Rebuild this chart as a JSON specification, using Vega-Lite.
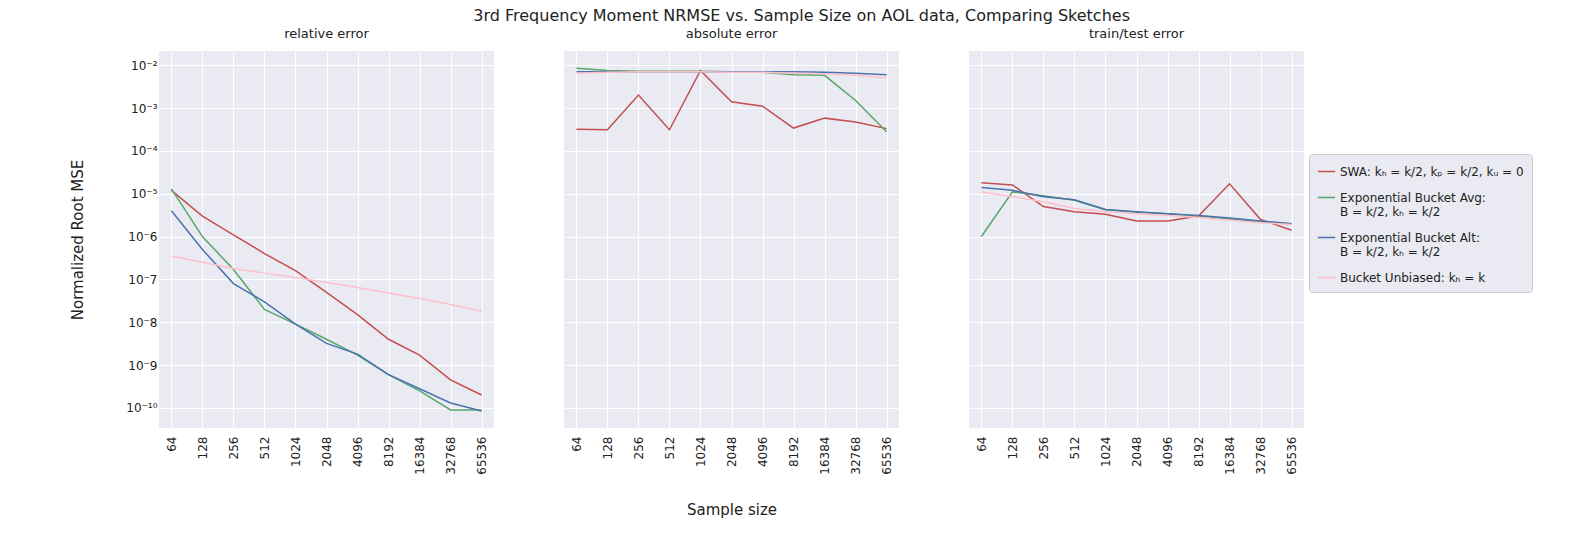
{
"$schema":"https://vega.github.io/schema/vega-lite/v6.json",
"background":"white",
"padding":{"left":70,"top":8,"right":5,"bottom":5},
"title":{"text":"3rd Frequency Moment NRMSE vs. Sample Size on AOL data, Comparing Sketches","anchor":"middle","fontSize":16,"fontWeight":"normal","font":"DejaVu Sans","color":"#222"},
"datasets":{"raw":[
{"p":"relative error","s":"SWA","v":[1.2e-5,3e-6,1.1e-6,4e-7,1.6e-7,5e-8,1.5e-8,4e-9,1.7e-9,4.5e-10,2e-10]},
{"p":"relative error","s":"EBA","v":[1.3e-5,1e-6,1.7e-7,2e-8,9e-9,4e-9,1.7e-9,6e-10,2.5e-10,9e-11,9e-11]},
{"p":"relative error","s":"EBB","v":[4e-6,5e-7,8e-8,3e-8,9e-9,3.2e-9,1.8e-9,6e-10,2.8e-10,1.3e-10,8.5e-11]},
{"p":"relative error","s":"BU","v":[3.5e-7,2.5e-7,1.8e-7,1.4e-7,1.1e-7,8.5e-8,6.5e-8,4.8e-8,3.6e-8,2.6e-8,1.8e-8]},
{"p":"absolute error","s":"SWA","v":[3.2e-4,3.1e-4,2e-3,3.1e-4,7.5e-3,1.4e-3,1.1e-3,3.4e-4,5.8e-4,4.7e-4,3.3e-4]},
{"p":"absolute error","s":"EBA","v":[8.5e-3,7.5e-3,7.2e-3,7.2e-3,7.2e-3,7e-3,6.8e-3,6e-3,5.8e-3,1.5e-3,2.8e-4]},
{"p":"absolute error","s":"EBB","v":[7e-3,7e-3,7e-3,7e-3,7e-3,7e-3,7e-3,7e-3,6.8e-3,6.5e-3,6e-3]},
{"p":"absolute error","s":"BU","v":[6.5e-3,6.8e-3,7e-3,7e-3,7e-3,6.8e-3,6.8e-3,6.5e-3,6.3e-3,5.8e-3,5e-3]},
{"p":"train/test error","s":"SWA","v":[1.8e-5,1.6e-5,5e-6,3.8e-6,3.3e-6,2.3e-6,2.3e-6,3e-6,1.7e-5,2.5e-6,1.4e-6]},
{"p":"train/test error","s":"EBA","v":[1e-6,1.1e-5,9e-6,7e-6,4.2e-6,3.7e-6,3.4e-6,3e-6,2.6e-6,2.2e-6,2e-6]},
{"p":"train/test error","s":"EBB","v":[1.4e-5,1.2e-5,8.5e-6,7.2e-6,4.3e-6,3.8e-6,3.4e-6,3.1e-6,2.7e-6,2.3e-6,2e-6]},
{"p":"train/test error","s":"BU","v":[1.1e-5,8.5e-6,6.5e-6,4.5e-6,3.8e-6,3.4e-6,3.1e-6,2.8e-6,2.4e-6,2.1e-6,1.9e-6]}
],
"ns":[{"i":1,"n":64},{"i":2,"n":128},{"i":3,"n":256},{"i":4,"n":512},{"i":5,"n":1024},{"i":6,"n":2048},{"i":7,"n":4096},{"i":8,"n":8192},{"i":9,"n":16384},{"i":10,"n":32768},{"i":11,"n":65536}]},
"data":{"name":"raw"},
"transform":[
{"flatten":["v"],"as":["val"]},
{"window":[{"op":"row_number","as":"rn"}],"groupby":["p","s"]},
{"lookup":"rn","from":{"data":{"name":"ns"},"key":"i","fields":["n"]}},
{"filter":"datum.n != null"}
],
"facet":{"column":{"field":"p","type":"nominal","sort":["relative error","absolute error","train/test error"],"title":"Sample size","header":{"titleOrient":"bottom","labelOrient":"top","labelFontSize":13,"titleFontSize":15,"titleFontWeight":"normal","labelFont":"DejaVu Sans","titleFont":"DejaVu Sans","labelColor":"#222","titleColor":"#222","titlePadding":18}}},
"spacing":70,
"spec":{
"width":335,"height":377,
"mark":{"type":"line","strokeWidth":1.5},
"encoding":{
"x":{"field":"n","type":"ordinal","sort":"ascending","scale":{"type":"point","padding":0.4},"axis":{"title":null,"labelAngle":-90,"labelFontSize":12,"grid":true,"gridColor":"white","domain":false,"ticks":false,"labelPadding":8,"labelFont":"DejaVu Sans","labelColor":"#222"}},
"y":{"field":"val","type":"quantitative","scale":{"type":"log","domain":[3.4e-11,0.0214],"nice":false},"axis":{"title":"Normalized Root MSE","titleFontSize":15,"titleFontWeight":"normal","titlePadding":40,"titleFont":"DejaVu Sans","titleColor":"#222","values":[1e-10,1e-9,1e-8,1e-7,1e-6,1e-5,1e-4,1e-3,1e-2],"labelExpr":"'10' + replace(replace(replace(replace(replace(replace(replace(toString(round(log(datum.value)/LN10)),'-','⁻'),'1','¹'),'0','⁰'),'2','²'),'3','³'),'4','⁴'),'5','⁵')","labelFontSize":12,"grid":true,"gridColor":"white","domain":false,"ticks":false,"labelFont":"DejaVu Sans","labelColor":"#222"}},
"color":{"field":"s","type":"nominal","sort":["SWA","EBA","EBB","BU"],"scale":{"domain":["SWA","EBA","EBB","BU"],"range":["#C44E52","#55A868","#4C72B0","#FFC0CB"]},"legend":{"title":null,"labelExpr":"datum.value=='SWA' ? 'SWA: kₕ = k/2, kₚ = k/2, kᵤ = 0' : datum.value=='EBA' ? ['Exponential Bucket Avg:','B = k/2, kₕ = k/2'] : datum.value=='EBB' ? ['Exponential Bucket Alt:','B = k/2, kₕ = k/2'] : 'Bucket Unbiased: kₕ = k'","labelFontSize":12,"labelFont":"DejaVu Sans","labelColor":"#222","symbolType":"stroke","symbolStrokeWidth":1.5,"symbolSize":300,"rowPadding":10,"fillColor":"#EAEAF2","strokeColor":"#ccc","padding":8,"cornerRadius":3,"labelLimit":300,"orient":"none","legendX":1150,"legendY":103}}
}
},
"config":{"view":{"fill":"#EAEAF2","stroke":null}}
}
